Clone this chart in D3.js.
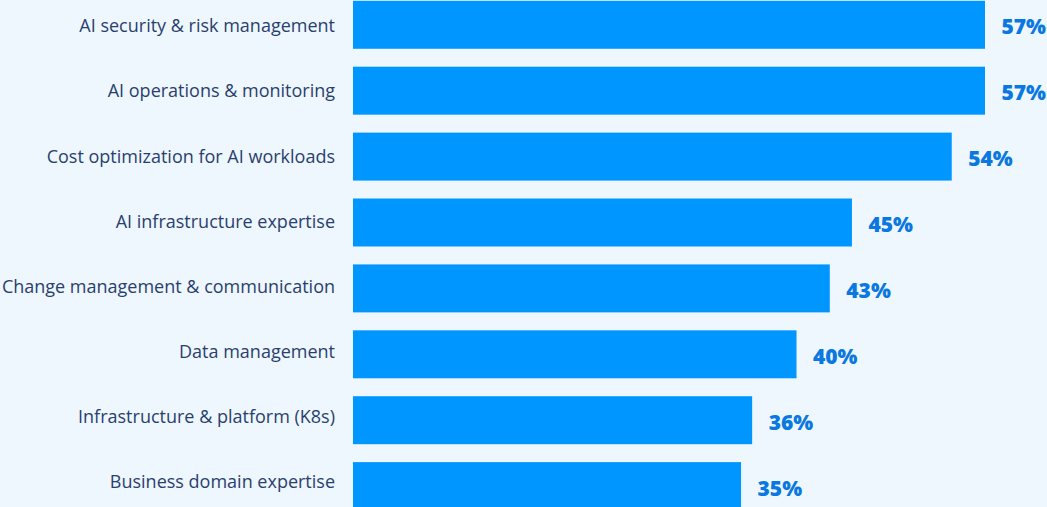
<!DOCTYPE html>
<html>
<head>
<meta charset="utf-8">
<script src="https://cdn.jsdelivr.net/npm/d3@7"></script>
<style>
  html, body { margin: 0; padding: 0; background: #edf7fd; }
  svg { display: block; }
</style>
</head>
<body>
<svg id="chart" width="1047" height="507"></svg>
<script>
// Skill areas and the share of respondents naming each one
const categories = [
  "AI security & risk management",
  "AI operations & monitoring",
  "Cost optimization for AI workloads",
  "AI infrastructure expertise",
  "Change management & communication",
  "Data management",
  "Infrastructure & platform (K8s)",
  "Business domain expertise"
];
const values = [57, 57, 54, 45, 43, 40, 36, 35];
const valueLabels = ["57%", "57%", "54%", "45%", "43%", "40%", "36%", "35%"];

const svg = d3.select("#chart");
const W = 1047, H = 507;

svg.append("rect").attr("width", W).attr("height", H).attr("fill", "#edf7fd");

const x = d3.scaleLinear().domain([0, 57]).range([353, 985]);

// bars
const y = d3.scaleBand()
  .domain(categories)
  .range([0.8, 510.1])
  .paddingInner(0.272)
  .paddingOuter(0);

// category label column runs on its own slightly tighter spacing
const yLabel = d3.scalePoint()
  .domain(categories)
  .range([25.7, 481.7]);

const data = categories.map((c, i) => ({ c, v: values[i], lbl: valueLabels[i] }));

const rows = svg.selectAll("g.row")
  .data(data)
  .join("g")
  .attr("class", "row");

rows.append("rect")
  .attr("x", x(0))
  .attr("y", d => y(d.c))
  .attr("width", d => x(d.v) - x(0))
  .attr("height", y.bandwidth())
  .attr("fill", "#0096ff");

rows.append("text")
  .attr("x", 335)
  .attr("y", d => yLabel(d.c) + 6.6)
  .attr("text-anchor", "end")
  .attr("font-family", "'Open Sans', sans-serif")
  .attr("font-size", 18)
  .attr("fill", "#2b3f6e")
  .text(d => d.c);

rows.append("text")
  .attr("x", d => x(d.v) + 16.5)
  .attr("y", d => y(d.c) + y.bandwidth() / 2 + 9.5)
  .attr("font-family", "'Open Sans', sans-serif")
  .attr("font-weight", 800)
  .attr("font-size", 21)
  .attr("fill", "#0a78e0")
  .text(d => d.lbl);
</script>
</body>
</html>
